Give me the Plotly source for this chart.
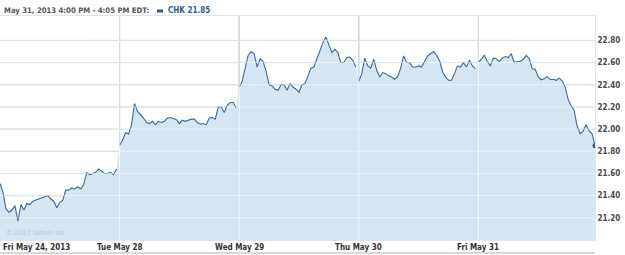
import plotly.graph_objects as go

# ---- data ----
day_labels = ["Fri May 24, 2013", "Tue May 28", "Wed May 29", "Thu May 30", "Fri May 31"]
y_ticks = [21.20, 21.40, 21.60, 21.80, 22.00, 22.20, 22.40, 22.60, 22.80]

day1 = [21.51, 21.43, 21.28, 21.25, 21.27, 21.31, 21.17, 21.32, 21.27, 21.33,
        21.32, 21.35, 21.36, 21.37, 21.38, 21.39, 21.40, 21.37, 21.35, 21.29,
        21.34, 21.36, 21.45, 21.45, 21.47, 21.46, 21.48, 21.46, 21.50, 21.61,
        21.59, 21.60, 21.61, 21.64, 21.62, 21.60, 21.60, 21.61, 21.59, 21.64]
day2 = [21.855, 21.90, 21.97, 21.955, 22.04, 22.23, 22.16, 22.13, 22.10, 22.06,
        22.05, 22.07, 22.04, 22.07, 22.06, 22.07, 22.10, 22.105, 22.095, 22.085,
        22.05, 22.08, 22.07, 22.08, 22.09, 22.09, 22.06, 22.045, 22.05, 22.04,
        22.10, 22.105, 22.09, 22.20, 22.20, 22.15, 22.215, 22.24, 22.24, 22.19]
day3 = [22.38, 22.43, 22.55, 22.665, 22.70, 22.68, 22.56, 22.635, 22.61, 22.52,
        22.40, 22.39, 22.36, 22.35, 22.40, 22.40, 22.35, 22.41, 22.38, 22.36,
        22.33, 22.40, 22.41, 22.48, 22.55, 22.56, 22.63, 22.70, 22.78, 22.83,
        22.75, 22.69, 22.72, 22.69, 22.60, 22.60, 22.645, 22.65, 22.62, 22.56]
day4 = [22.43, 22.50, 22.64, 22.57, 22.55, 22.63, 22.53, 22.47, 22.51, 22.50,
        22.48, 22.47, 22.45, 22.47, 22.55, 22.66, 22.60, 22.60, 22.56, 22.56,
        22.57, 22.56, 22.61, 22.66, 22.68, 22.70, 22.665, 22.62, 22.52, 22.47,
        22.44, 22.44, 22.50, 22.57, 22.56, 22.60, 22.56, 22.62, 22.57, 22.545]
day5 = [22.60, 22.635, 22.665, 22.61, 22.57, 22.64, 22.635, 22.61, 22.64, 22.655,
        22.645, 22.68, 22.60, 22.61, 22.61, 22.63, 22.665, 22.635, 22.545, 22.54,
        22.47, 22.445, 22.455, 22.475, 22.445, 22.45, 22.44, 22.46, 22.435, 22.38,
        22.27, 22.21, 22.17, 22.03, 21.96, 21.98, 22.04, 21.985, 21.96, 21.85]

days = [day1, day2, day3, day4, day5]
Y_MIN, Y_MAX = 21.0, 23.02

# x positions: each trading day occupies one unit on the axis
day_x = []
for d, vals in enumerate(days):
    n = len(vals)
    day_x.append([d + i / n for i in range(n)])
xs = [x for dx in day_x for x in dx]
ys = [v for vals in days for v in vals]

LINE = "#3a6a9f"
FILL = "#d5e5f1"
GRID_BASE = "#b3c3d2"          # gray grid under the fill
GRID_OVER = "rgba(255,255,255,0.55)"
VGRID_OVER = "rgba(255,255,255,0.75)"
FONT = "DejaVu Sans Condensed, DejaVu Sans, Verdana, sans-serif"

fig = go.Figure()
# continuous area fill (no outline)
fig.add_trace(go.Scatter(x=xs, y=ys, mode="lines", line=dict(width=0, color=FILL),
                         fill="tozeroy", fillcolor=FILL, hoverinfo="skip"))
# price line, one piece per trading day
for dx, vals in zip(day_x, days):
    fig.add_trace(go.Scatter(x=dx, y=vals, mode="lines",
                             line=dict(color=LINE, width=1.1), hoverinfo="skip"))
fig.add_trace(go.Scatter(x=[xs[-1]], y=[ys[-1]], mode="markers",
                         marker=dict(color="#2b5b90", size=5), hoverinfo="skip"))

W, H = 625, 255
ml, mr, mt, mb = 0, 30, 16, 15
pw, ph = W - ml - mr, H - mt - mb

def px_x(p):
    return (p - ml) / pw

def px_y(p):
    return (H - mb - p) / ph

fig.update_layout(
    width=W, height=H,
    margin=dict(l=ml, r=mr, t=mt, b=mb),
    paper_bgcolor="white", plot_bgcolor="white",
    showlegend=False,
    xaxis=dict(range=[0, xs[-1]], showticklabels=False, showgrid=False,
               zeroline=False, showline=True, linecolor="#dde4eb", mirror=True,
               ticks="", fixedrange=True),
    yaxis=dict(range=[Y_MIN, Y_MAX], side="right", tickvals=y_ticks,
               tickformat=".2f", showgrid=False,
               zeroline=False, showline=True, linecolor="#dde4eb", mirror=True,
               ticks="",
               tickfont=dict(family=FONT, size=8, color="#4a4a4a", weight="bold")),
    font=dict(family=FONT),
)

shapes = []
# horizontal grid: gray under traces + light overlay above
for t in y_ticks:
    shapes.append(dict(type="line", xref="paper", yref="y", x0=0, x1=1, y0=t, y1=t,
                       layer="below", line=dict(color=GRID_BASE, width=1)))
    shapes.append(dict(type="line", xref="paper", yref="y", x0=0, x1=1, y0=t, y1=t,
                       layer="above", line=dict(color=GRID_OVER, width=1)))
# vertical day separators
for d in range(1, len(days)):
    shapes.append(dict(type="line", xref="x", yref="paper", x0=d, x1=d, y0=0, y1=1,
                       layer="below", line=dict(color="#6f8aa5", width=1)))
    shapes.append(dict(type="line", xref="x", yref="paper", x0=d, x1=d, y0=0, y1=1,
                       layer="above", line=dict(color=VGRID_OVER, width=1)))
# legend swatch in header
shapes.append(dict(type="rect", xref="paper", yref="paper",
                   x0=px_x(157), x1=px_x(163), y0=px_y(12.5), y1=px_y(9.5),
                   fillcolor="#2b5b90", line=dict(width=0)))
# bottom rule under the date labels
shapes.append(dict(type="line", xref="paper", yref="paper",
                   x0=0, x1=1, y0=px_y(253), y1=px_y(253),
                   line=dict(color="#d9d9d9", width=2)))
fig.update_layout(shapes=shapes)

annotations = []
for d, lab in enumerate(day_labels):
    annotations.append(dict(
        x=d, y=px_y(247), xref="x", yref="paper",
        text=lab, showarrow=False,
        xanchor="left" if d == 0 else "center", yanchor="middle",
        xshift=1 if d == 0 else 0,
        font=dict(family=FONT, size=8, color="#333333", weight="bold")))

annotations.append(dict(
    x=px_x(2), y=px_y(11), xref="paper", yref="paper",
    text="May 31, 2013 4:00 PM - 4:05 PM EDT:", showarrow=False,
    xanchor="left", yanchor="middle",
    font=dict(family=FONT, size=7.7, color="#555555", weight="bold")))
annotations.append(dict(
    x=px_x(166), y=px_y(11), xref="paper", yref="paper",
    text="CHK %.2f" % ys[-1], showarrow=False,
    xanchor="left", yanchor="middle",
    font=dict(family=FONT, size=8, color="#2b5b90", weight="bold")))
annotations.append(dict(
    x=px_x(4), y=px_y(233), xref="paper", yref="paper",
    text="© 2013 Yahoo! Inc.", showarrow=False,
    xanchor="left", yanchor="middle",
    font=dict(family=FONT, size=7, color="#bcc6d0")))
fig.update_layout(annotations=annotations)

fig.write_html("out.html")
